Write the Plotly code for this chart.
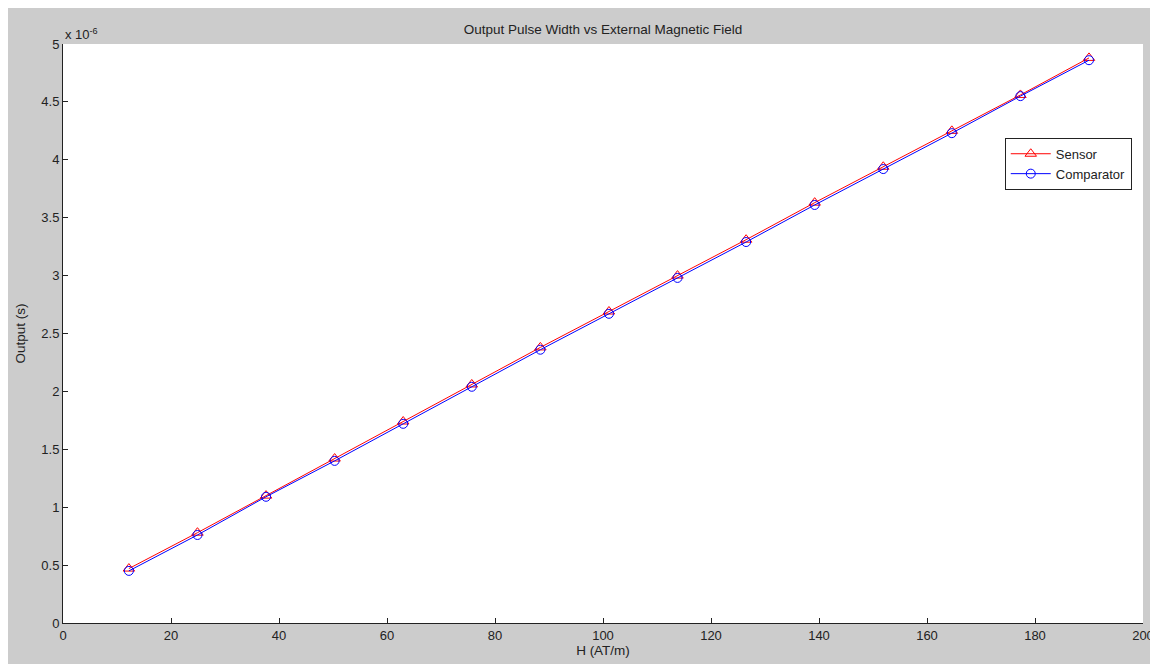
import plotly.graph_objects as go

# Data (y in units of 1e-6 s)
h_field = [12.2, 24.9, 37.6, 50.3, 63.0, 75.7, 88.4, 101.1, 113.8,
           126.5, 139.2, 151.9, 164.6, 177.3, 190.0]
sensor = [0.47, 0.78, 1.10, 1.42, 1.74, 2.06, 2.38, 2.69, 3.00, 3.31, 3.63,
          3.94, 4.25, 4.56, 4.88]
comparator = [0.45, 0.76, 1.09, 1.40, 1.72, 2.04, 2.36, 2.67, 2.98, 3.29,
              3.61, 3.92, 4.23, 4.55, 4.86]
x_ticks = [0, 20, 40, 60, 80, 100, 120, 140, 160, 180, 200]
y_ticks = [0, 0.5, 1, 1.5, 2, 2.5, 3, 3.5, 4, 4.5, 5]
y_tick_labels = ["0", "0.5", "1", "1.5", "2", "2.5", "3", "3.5", "4", "4.5", "5"]

FONT = "Liberation Sans, Arial, sans-serif"
GRAY = "#cccccc"
TXT = "#222222"

fig = go.Figure()
fig.add_trace(go.Scatter(
    x=h_field, y=sensor, name="Sensor", mode="lines+markers",
    line=dict(color="#ff0000", width=1),
    marker=dict(symbol="triangle-up-open", size=10, color="#ff0000",
                line=dict(width=1, color="#ff0000")),
))
fig.add_trace(go.Scatter(
    x=h_field, y=comparator, name="Comparator", mode="lines+markers",
    line=dict(color="#0000ff", width=1),
    marker=dict(symbol="circle-open", size=9, color="#0000ff",
                line=dict(width=1, color="#0000ff")),
))

fig.update_layout(
    width=1158, height=664,
    margin=dict(l=51, r=22, t=36, b=49),
    paper_bgcolor=GRAY,
    plot_bgcolor="white",
    font=dict(family=FONT, size=13, color=TXT),
    title=dict(text="Output Pulse Width vs External Magnetic Field",
               x=0.5, xanchor="center", y=1 - 21 / 664, yanchor="middle",
               xref="paper",
               font=dict(family=FONT, size=13.5, color=TXT)),
    showlegend=True,
    legend=dict(x=0.872, y=0.838, xanchor="left", yanchor="top",
                bgcolor="white", bordercolor=TXT, borderwidth=1,
                font=dict(family=FONT, size=13, color=TXT),
                itemwidth=40, tracegroupgap=2),
    xaxis=dict(range=[0, 200], tickvals=x_ticks, ticks="inside", ticklen=5,
               tickcolor=TXT, showline=True, linecolor=TXT,
               linewidth=1, showgrid=False, zeroline=False, mirror=False,
               tickfont=dict(family=FONT, size=13, color=TXT),
               title=dict(text="H (AT/m)", standoff=2,
                          font=dict(family=FONT, size=13.5, color=TXT))),
    yaxis=dict(range=[0, 5], tickvals=y_ticks, ticktext=y_tick_labels,
               ticks="inside", ticklen=5, tickcolor=TXT,
               showline=True, linecolor=TXT, linewidth=1,
               showgrid=False, zeroline=False, mirror=False,
               tickfont=dict(family=FONT, size=13, color=TXT),
               title=dict(text="Output (s)", standoff=12,
                          font=dict(family=FONT, size=13.5, color=TXT))),
    annotations=[
        dict(text="x 10<sup>-6</sup>", xref="paper", yref="paper",
             x=0, y=1, xanchor="left", yanchor="bottom", yshift=0,
             showarrow=False, font=dict(family=FONT, size=13, color=TXT)),
    ],
)

fig.write_html("out.html")
